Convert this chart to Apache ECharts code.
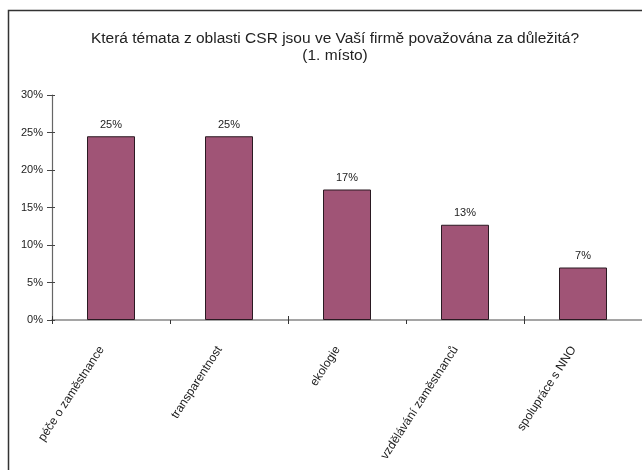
<!DOCTYPE html>
<html>
<head>
<meta charset="utf-8">
<script src="https://cdn.jsdelivr.net/npm/echarts@6/dist/echarts.min.js"></script>
<style>
html,body{margin:0;padding:0;background:#fff;}
#chart{width:642px;height:470px;}
</style>
</head>
<body>
<div id="chart"></div>
<script>
var categories = ['péče o zaměstnance', 'transparentnost', 'ekologie', 'vzdělávání zaměstnanců', 'spolupráce s NNO'];
var values = [24.5, 24.5, 17.4, 12.7, 7.0];
var yTicks = [0, 5, 10, 15, 20, 25, 30];
var titleLines = ['Která témata z oblasti CSR jsou ve Vaší firmě považována za důležitá?', '(1. místo)'];

var FONT = '"Liberation Sans", Arial, sans-serif';
var chart = echarts.init(document.getElementById('chart'), null, {renderer: 'canvas'});
var option = {
  backgroundColor: '#fff',
  animation: false,
  title: {
    text: titleLines.join('\n'),
    left: 330,
    textAlign: 'center',
    top: 25,
    textStyle: {fontFamily: FONT, fontSize: 15.5, fontWeight: 'normal', color: '#222', lineHeight: 17}
  },
  graphic: [{
    type: 'rect',
    shape: {x: 8.5, y: 10.5, width: 700, height: 500},
    style: {fill: 'none', stroke: '#333', lineWidth: 1.5},
    silent: true
  }],
  grid: {left: 52, right: 0, top: 95, bottom: 150},
  xAxis: [{
    type: 'category',
    data: categories,
    axisLine: {lineStyle: {color: '#888', width: 1.5}},
    axisTick: {show: true, length: 4, lineStyle: {color: '#333'}},
    axisLabel: {
      rotate: 57, margin: 24, fontFamily: FONT, fontSize: 12, color: '#222', interval: 0,
      verticalAlign: 'bottom', padding: [0, 8, 0, 0]
    }
  }, {
    type: 'category',
    data: categories,
    position: 'bottom',
    axisLine: {show: false},
    axisTick: {show: true, inside: true, length: 4, lineStyle: {color: '#333'}},
    axisLabel: {show: false}
  }],
  yAxis: [{
    type: 'value',
    min: yTicks[0], max: yTicks[yTicks.length - 1], interval: 5,
    splitLine: {show: false},
    axisLine: {show: true, lineStyle: {color: '#666', width: 1.2}},
    axisTick: {show: true, length: 5, lineStyle: {color: '#444'}},
    axisLabel: {formatter: function (v) { return v + '%'; }, margin: 9, fontFamily: FONT, fontSize: 11, color: '#222'}
  }, {
    type: 'value',
    position: 'left',
    min: yTicks[0], max: yTicks[yTicks.length - 1], interval: 5,
    splitLine: {show: false},
    axisLine: {show: false},
    axisTick: {show: true, inside: true, length: 3, lineStyle: {color: '#444'}},
    axisLabel: {show: false}
  }],
  series: [{
    type: 'bar',
    data: values,
    barWidth: 48,
    itemStyle: {color: '#A05476', borderColor: '#2a1a22', borderWidth: 1},
    label: {
      show: true, position: 'top', distance: 6,
      formatter: function (p) { return Math.round(p.value) + '%'; },
      fontFamily: FONT, fontSize: 11, color: '#222'
    }
  }]
};
chart.setOption(option);
</script>
</body>
</html>
